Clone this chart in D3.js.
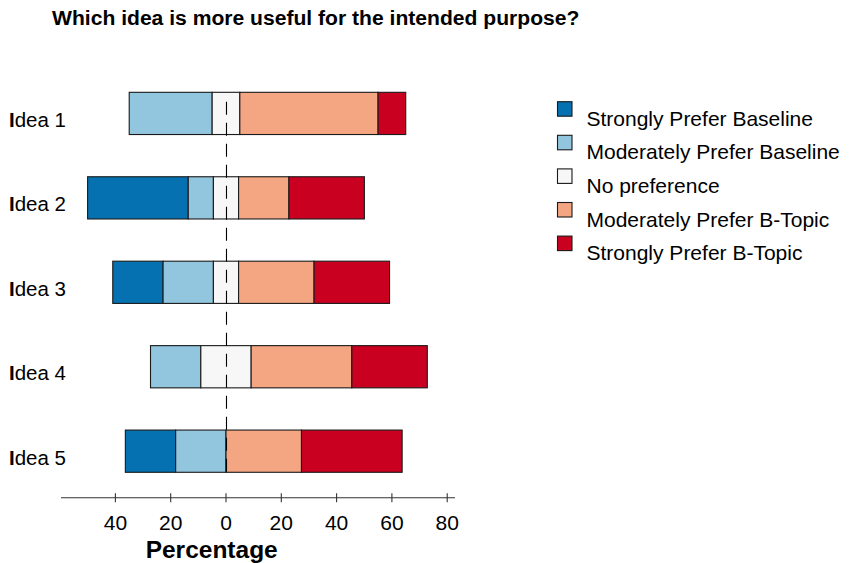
<!DOCTYPE html>
<html>
<head>
<meta charset="utf-8">
<script src="https://cdn.jsdelivr.net/npm/d3@7/dist/d3.min.js"></script>
<style>
  html, body { margin: 0; padding: 0; background: #fff; }
  svg { display: block; font-family: "Liberation Sans", Arial, Helvetica, sans-serif; }
</style>
</head>
<body>
<svg id="chart" width="851" height="563"></svg>
<script>
// ---- data ----
const ideas = ["Idea 1", "Idea 2", "Idea 3", "Idea 4", "Idea 5"];
const categories = [
  "Strongly Prefer Baseline",
  "Moderately Prefer Baseline",
  "No preference",
  "Moderately Prefer B-Topic",
  "Strongly Prefer B-Topic"
];
const strongBaseline   = [0,    36.4, 18.2, 0,    18.2];
const moderateBaseline = [30,   9.1,  18.2, 18.2, 18.2];
const noPreference     = [10,   9.1,  9.1,  18.2, 0];
const moderateBTopic   = [50,   18.2, 27.3, 36.4, 27.3];
const strongBTopic     = [10,   27.3, 27.3, 27.3, 36.4];
const colors = ["#0571b0", "#92c5de", "#f7f7f7", "#f4a582", "#ca0020"];
const tickValues = [-40, -20, 0, 20, 40, 60, 80];
const titleText = "Which idea is more useful for the intended purpose?";
const xTitle = "Percentage";

// ---- layout ----
const svg = d3.select("#chart");

const x = d3.scaleLinear().domain([-59.67, 82.82]).range([61, 455]);
const y = d3.scaleBand().domain(ideas).range([71.2, 493.4]).paddingInner(0.5).paddingOuter(0.25);

// build segments (no preference split evenly around zero)
const segments = [];
ideas.forEach((idea, i) => {
  const vals = [strongBaseline[i], moderateBaseline[i], noPreference[i], moderateBTopic[i], strongBTopic[i]];
  let left = -(vals[0] + vals[1] + vals[2] / 2);
  vals.forEach((v, k) => {
    if (v > 0) segments.push({ idea, k, x0: left, x1: left + v });
    left += v;
  });
});

svg.append("g").selectAll("rect")
  .data(segments)
  .join("rect")
  .attr("x", d => x(d.x0))
  .attr("y", d => y(d.idea))
  .attr("width", d => x(d.x1) - x(d.x0))
  .attr("height", y.bandwidth())
  .attr("fill", d => colors[d.k])
  .attr("stroke", "#1a1a1a")
  .attr("stroke-width", 1.1);

// dashed zero line
svg.append("line")
  .attr("x1", x(0) + 0.5).attr("x2", x(0) + 0.5)
  .attr("y1", 101.7).attr("y2", y(ideas[4]) + y.bandwidth())
  .attr("stroke", "#000")
  .attr("stroke-width", 1.1)
  .attr("stroke-dasharray", "13,8");

// x axis
const axisY = 497.7;
const axisG = svg.append("g");
axisG.append("line")
  .attr("x1", x.range()[0]).attr("x2", x.range()[1])
  .attr("y1", axisY).attr("y2", axisY)
  .attr("stroke", "#333").attr("stroke-width", 1.1);
axisG.selectAll("line.tick")
  .data(tickValues)
  .join("line")
  .attr("class", "tick")
  .attr("x1", d => x(d)).attr("x2", d => x(d))
  .attr("y1", axisY - 4.5).attr("y2", axisY + 4.5)
  .attr("stroke", "#333").attr("stroke-width", 1.1);
axisG.selectAll("text")
  .data(tickValues)
  .join("text")
  .attr("x", d => x(d))
  .attr("y", 529.5)
  .attr("text-anchor", "middle")
  .attr("font-size", "21px")
  .attr("fill", "#000")
  .text(d => Math.abs(d));

svg.append("text")
  .attr("x", 211.7).attr("y", 557.5)
  .attr("text-anchor", "middle")
  .attr("font-size", "24.5px")
  .attr("font-weight", "bold")
  .text(xTitle);

// y labels
const yl = svg.append("g").selectAll("text")
  .data(ideas)
  .join("text")
  .attr("x", 9)
  .attr("y", d => y(d) + y.bandwidth() / 2 + 13.5)
  .attr("font-size", "20.5px")
  .attr("fill", "#000");
yl.append("tspan").attr("font-weight", "bold").text(d => d.charAt(0));
yl.append("tspan").text(d => d.slice(1));

// title
svg.append("text")
  .attr("x", 52).attr("y", 25)
  .attr("font-size", "21.1px")
  .attr("font-weight", "bold")
  .text(titleText);

// legend
const lg = svg.append("g");
categories.forEach((c, k) => {
  const top = 101.7 + k * 33.6;
  lg.append("rect")
    .attr("x", 557.5).attr("y", top)
    .attr("width", 14.5).attr("height", 14.5)
    .attr("fill", colors[k])
    .attr("stroke", "#1a1a1a").attr("stroke-width", 1.1);
  lg.append("text")
    .attr("x", 586.5).attr("y", top + 24.1)
    .attr("font-size", "21px")
    .attr("fill", "#000")
    .text(c);
});
</script>
</body>
</html>
